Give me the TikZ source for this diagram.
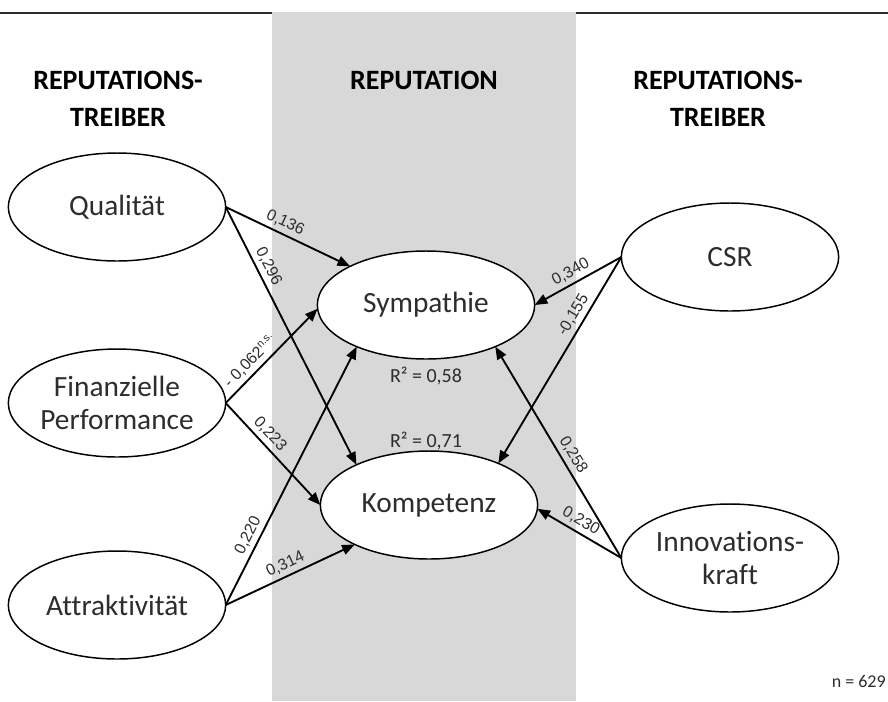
\documentclass[tikz,border=0pt]{standalone}
\usepackage{fontspec}
\setmainfont{Carlito}[Ligatures=NoCommon]
\newfontfamily\arialfont{Liberation Sans}
\usetikzlibrary{shapes.geometric,arrows.meta}
\definecolor{rpgray}{RGB}{216,216,216}
\definecolor{rptext}{RGB}{45,45,45}

\begin{document}
\begin{tikzpicture}[x=0.75pt,y=0.75pt]
	\tikzset{
		rpnode/.style={
			shape=ellipse,
			draw=black,
			line width=1.1pt,
			fill=white,
			minimum width=163pt,
			minimum height=81pt,
			inner sep=0pt,
			outer sep=0pt,
			align=center,
			font=\fontsize{22}{24.5}\selectfont,
			text=rptext
		},
		rphead/.style={
			anchor=north,
			align=center,
			inner sep=0pt,
			font=\bfseries\fontsize{21}{27.5}\selectfont
		},
		rpedge/.style={draw=black,line width=1.4pt,-{Triangle[length=9.5pt,width=7.5pt]}},
		rplabel/.style={
			sloped,
			above,
			inner sep=3pt,
			font=\arialfont\fontsize{12}{12}\selectfont,
			text=rptext
		},
		rpnote/.style={font=\fontsize{15}{15}\selectfont, text=rptext, inner sep=0pt}
	}
	\useasboundingbox (0,0) rectangle (888,-701);
	\draw[line width=1.4pt, rptext] (0,-13) -- (888,-13);
	\fill[rpgray] (272,-12) rectangle (576,-701);

	\node[rphead] (hdleft) at (118,-71) {REPUTATIONS-\\TREIBER};
	\node[rphead] (hdmid) at (424,-71) {REPUTATION};
	\node[rphead] (hdright) at (718,-71) {REPUTATIONS-\\TREIBER};

	\node[rpnode] (qual) at (117,-207) {Qualität};
	\node[rpnode] (fin) at (117,-403) {Finanzielle\\Performance};
	\node[rpnode] (attr) at (117,-605) {Attraktivität};
	\node[rpnode] (sym) at (426,-305) {Sympathie};
	\node[rpnode] (komp) at (429,-505) {Kompetenz};
	\node[rpnode] (csr) at (730,-257) {CSR};
	\node[rpnode] (innov) at (730,-558) {Innovations-\\kraft};

	\node[rpnote] (rsym) at (426,-376) {R² = 0,58};
	\node[rpnote] (rkomp) at (426,-441) {R² = 0,71};
	\node[rpnote, anchor=east, font=\fontsize{13.5}{13.5}\selectfont] (nsize) at (886,-681) {n = 629};

	\draw[rpedge] (qual.east) -- node[rplabel, pos=0.44] {0,136} (sym.153);
	\draw[rpedge] (qual.east) -- node[rplabel, pos=0.25] {0,296} (komp.151);
	\draw[rpedge] (fin.east) -- node[rplabel, pos=0.36] {- 0,062\textsuperscript{n.s.}} (sym.182);
	\draw[rpedge] (fin.east) -- node[rplabel, pos=0.38] {0,223} (komp.west);
	\draw[rpedge] (attr.east) -- node[rplabel, pos=0.25] {0,220} (sym.211);
	\draw[rpedge] (attr.east) -- node[rplabel, pos=0.5] {0,314} (komp.208);
	\draw[rpedge] (csr.west) -- node[rplabel, pos=0.52] {0,340} (sym.east);
	\draw[rpedge] (csr.west) -- node[rplabel, pos=0.31] {-0,155} (komp.31);
	\draw[rpedge] (innov.west) -- node[rplabel, pos=0.46] {0,258} (sym.329);
	\draw[rpedge] (innov.west) -- node[rplabel, pos=0.55] {0,230} (komp.358);
\end{tikzpicture}
\end{document}
